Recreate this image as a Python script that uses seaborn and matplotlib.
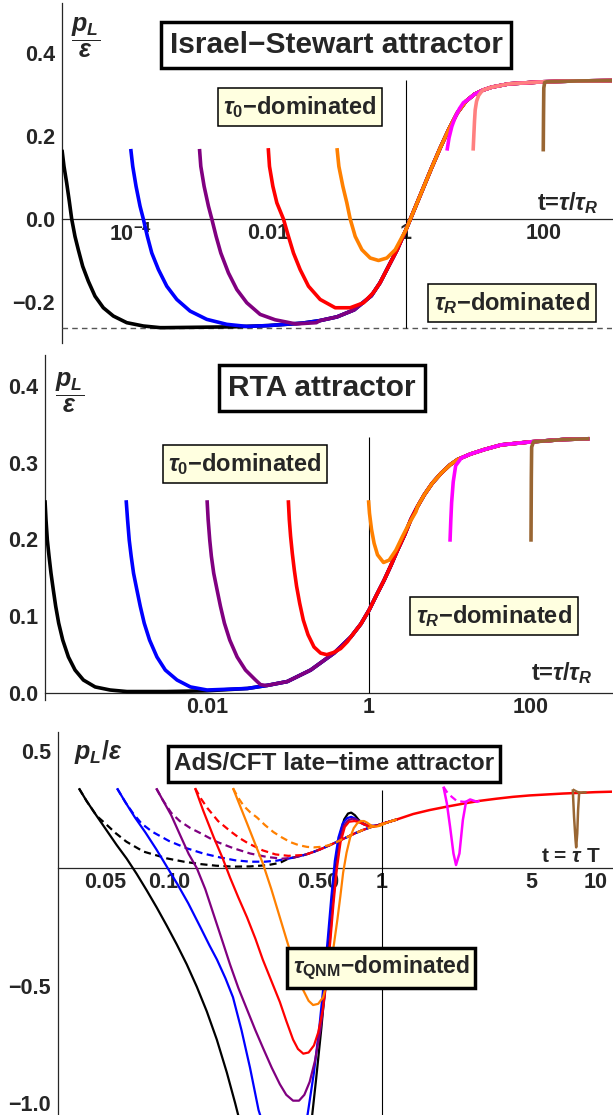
import numpy as np
import matplotlib
matplotlib.use("Agg")
import matplotlib.pyplot as plt
import seaborn as sns
from matplotlib.ticker import FixedLocator, FixedFormatter, NullFormatter

# ---- data: log10(t) and p_L/epsilon ----

# Israel-Stewart panel
is_att_lt = [-5.0, -3.5, -2.5, -2.0, -1.5, -1.25, -1.0, -0.75, -0.5, -0.375, -0.25, -0.125, 0.0,
             0.125, 0.25, 0.375, 0.5, 0.625, 0.75, 0.875, 1.0, 1.125, 1.25, 1.5, 2.0, 2.5, 3.0]
is_att_v = [-0.263, -0.263, -0.261, -0.258, -0.252, -0.246, -0.237, -0.220, -0.186, -0.155,
            -0.115, -0.075, -0.028, 0.022, 0.072, 0.122, 0.170, 0.215, 0.255, 0.283, 0.300,
            0.310, 0.317, 0.325, 0.330, 0.332, 0.333]
is_black_lt = [-5.0, -4.971, -4.932, -4.894, -4.859, -4.811, -4.763, -4.699, -4.617, -4.52,
               -4.399, -4.253, -4.058, -3.817, -3.574]
is_black_v = [0.166, 0.126, 0.086, 0.042, -0.001, -0.043, -0.075, -0.115, -0.151, -0.187,
              -0.215, -0.235, -0.251, -0.259, -0.263]
is_blue_lt = [-4.0, -3.971, -3.923, -3.865, -3.817, -3.758, -3.694, -3.597, -3.476, -3.33,
              -3.137, -2.894, -2.603, -2.312]
is_blue_v = [0.168, 0.126, 0.078, 0.030, -0.001, -0.043, -0.083, -0.123, -0.163, -0.195,
             -0.223, -0.243, -0.255, -0.260]
is_purple_lt = [-3.0, -2.981, -2.933, -2.870, -2.821, -2.758, -2.69, -2.579, -2.457, -2.312,
                -2.118, -1.9, -1.6, -1.3]
is_purple_v = [0.168, 0.126, 0.078, 0.030, -0.001, -0.043, -0.083, -0.131, -0.171, -0.203,
               -0.231, -0.244, -0.254, -0.251]
is_red_lt = [-2.0, -1.982, -1.933, -1.875, -1.779, -1.706, -1.633, -1.536, -1.415, -1.245,
             -1.026, -0.808, -0.614, -0.469]
is_red_v = [0.170, 0.126, 0.078, 0.038, -0.001, -0.043, -0.083, -0.123, -0.163, -0.195,
            -0.215, -0.215, -0.203, -0.178]
is_orange_lt = [-1.0, -0.973, -0.915, -0.857, -0.808, -0.735, -0.638, -0.517, -0.396, -0.275,
                -0.153, -0.056]
is_orange_v = [0.170, 0.126, 0.078, 0.038, -0.001, -0.043, -0.075, -0.095, -0.101, -0.095,
               -0.075, -0.045]
is_magenta_lt = [0.60, 0.63, 0.67, 0.72, 0.78, 0.84]
is_magenta_v = [0.164, 0.195, 0.222, 0.245, 0.265, 0.28]
is_pink_lt = [0.98, 0.99, 1.0, 1.01, 1.03, 1.06, 1.1]
is_pink_v = [0.164, 0.20, 0.235, 0.262, 0.283, 0.297, 0.306]
is_brown_lt = [2.0, 2.004, 2.008, 2.02, 2.05]
is_brown_v = [0.162, 0.25, 0.315, 0.328, 0.330]
is_floor = -0.263

# RTA panel
rta_att_lt = [-4.0, -3.5, -3.0, -2.5, -2.0, -1.5, -1.256, -1.009, -0.72, -0.432, -0.225, -0.1,
              0.001, 0.09, 0.187, 0.27, 0.352, 0.44, 0.517, 0.6, 0.682, 0.78, 0.889, 1.0,
              1.095, 1.25, 1.425, 1.631, 2.0, 2.4, 2.72]
rta_att_v = [0.0, 0.001, 0.001, 0.002, 0.003, 0.006, 0.010, 0.015, 0.030, 0.052, 0.073, 0.090,
             0.108, 0.127, 0.147, 0.166, 0.186, 0.206, 0.226, 0.243, 0.258, 0.273, 0.286,
             0.297, 0.304, 0.311, 0.317, 0.323, 0.327, 0.330, 0.331]
rta_black_lt = [-4.0, -3.988, -3.971, -3.95, -3.926, -3.897, -3.868, -3.831, -3.781, -3.711,
                -3.629, -3.526, -3.381, -3.196, -2.989]
rta_black_v = [0.251, 0.226, 0.199, 0.178, 0.156, 0.134, 0.113, 0.091, 0.069, 0.047, 0.030,
               0.017, 0.008, 0.004, 0.002]
rta_blue_lt = [-2.998, -2.981, -2.96, -2.936, -2.907, -2.865, -2.824, -2.775, -2.709, -2.618,
               -2.515, -2.37, -2.205, -1.999]
rta_blue_v = [0.251, 0.226, 0.199, 0.178, 0.156, 0.134, 0.113, 0.091, 0.069, 0.047, 0.030,
              0.017, 0.008, 0.004]
rta_purple_lt = [-1.999, -1.986, -1.966, -1.946, -1.917, -1.875, -1.834, -1.785, -1.719, -1.628,
                 -1.525, -1.401, -1.339, -1.28]
rta_purple_v = [0.251, 0.226, 0.199, 0.178, 0.156, 0.134, 0.113, 0.091, 0.069, 0.047, 0.030,
                0.017, 0.011, 0.010]
rta_red_lt = [-0.996, -0.984, -0.968, -0.947, -0.922, -0.894, -0.856, -0.811, -0.753, -0.679,
              -0.597, -0.522, -0.432, -0.349, -0.266]
rta_red_v = [0.251, 0.226, 0.204, 0.182, 0.160, 0.139, 0.117, 0.095, 0.076, 0.060, 0.052,
             0.050, 0.053, 0.058, 0.067]
rta_orange_lt = [-0.006, 0.006, 0.031, 0.063, 0.105, 0.179, 0.249, 0.332, 0.414, 0.497, 0.579]
rta_orange_v = [0.251, 0.234, 0.213, 0.195, 0.180, 0.170, 0.173, 0.186, 0.204, 0.221, 0.236]
rta_magenta_lt = [1.0, 1.01, 1.02, 1.04, 1.07, 1.14]
rta_magenta_v = [0.197, 0.225, 0.248, 0.275, 0.296, 0.306]
rta_brown_lt = [2.0, 2.004, 2.008, 2.03]
rta_brown_v = [0.197, 0.28, 0.32, 0.327]

# AdS/CFT panel
ads_hyd_lt = [-0.48, -0.44, -0.40, -0.36, -0.324, -0.284, -0.244, -0.204, -0.164, -0.127, -0.09,
              -0.05, -0.01, 0.03, 0.07]
ads_hyd_v = [0.034, 0.040, 0.048, 0.057, 0.068, 0.082, 0.098, 0.115, 0.132, 0.148, 0.162, 0.175,
             0.185, 0.196, 0.207]
ads_late_lt = [-0.01, 0.07, 0.146, 0.224, 0.302, 0.38, 0.458, 0.536, 0.614, 0.692, 0.77, 0.848,
               0.926, 1.0, 1.08]
ads_late_v = [0.185, 0.207, 0.230, 0.247, 0.261, 0.274, 0.286, 0.295, 0.303, 0.309, 0.313, 0.317,
              0.320, 0.323, 0.325]
ads_black_lt = [-1.423, -1.387, -1.34, -1.293, -1.246, -1.199, -1.152, -1.105, -1.058, -1.011,
                -0.964, -0.917, -0.87, -0.823, -0.776, -0.729, -0.69, -0.62, -0.5, -0.4, -0.34,
                -0.31, -0.285, -0.265, -0.245, -0.228, -0.212, -0.195, -0.178, -0.16, -0.145,
                -0.128, -0.11, -0.09, -0.07, -0.045, -0.02]
ads_black_v = [0.339, 0.285, 0.222, 0.160, 0.098, 0.040, -0.025, -0.095, -0.168, -0.245, -0.325,
               -0.410, -0.505, -0.61, -0.73, -0.87, -1.0, -1.25, -1.5, -1.4, -1.15, -0.90, -0.68,
               -0.48, -0.28, -0.10, 0.05, 0.15, 0.207, 0.232, 0.236, 0.225, 0.205, 0.19, 0.181,
               0.178, 0.181]
ads_blue_lt = [-1.244, -1.205, -1.16, -1.11, -1.06, -1.01, -0.96, -0.91, -0.854, -0.81, -0.775,
               -0.735, -0.70, -0.66, -0.62, -0.58, -0.52, -0.45, -0.39, -0.35, -0.32, -0.295,
               -0.275, -0.255, -0.238, -0.222, -0.205, -0.185, -0.165, -0.145, -0.125, -0.105,
               -0.085, -0.06, -0.03]
ads_blue_v = [0.339, 0.28, 0.215, 0.15, 0.08, 0.005, -0.07, -0.15, -0.25, -0.33, -0.39, -0.47,
              -0.55, -0.69, -0.85, -1.03, -1.2, -1.28, -1.2, -1.05, -0.87, -0.68, -0.50, -0.30,
              -0.12, 0.03, 0.13, 0.19, 0.212, 0.218, 0.21, 0.195, 0.185, 0.179, 0.18]
ads_purple_lt = [-1.06, -1.03, -0.99, -0.948, -0.908, -0.87, -0.83, -0.79, -0.75, -0.714,
                 -0.675, -0.635, -0.595, -0.557, -0.518, -0.48, -0.45, -0.418, -0.39, -0.365,
                 -0.34, -0.315, -0.29, -0.27, -0.25, -0.232, -0.215, -0.198, -0.18, -0.16, -0.14,
                 -0.12, -0.1, -0.08, -0.05, -0.02]
ads_purple_v = [0.339, 0.29, 0.225, 0.14, 0.06, 0.0, -0.09, -0.2, -0.31, -0.41, -0.51, -0.60,
                -0.69, -0.77, -0.85, -0.92, -0.965, -0.99, -0.99, -0.965, -0.91, -0.82, -0.69,
                -0.55, -0.36, -0.16, 0.0, 0.12, 0.18, 0.203, 0.21, 0.206, 0.195, 0.186, 0.18, 0.18]
ads_red_lt = [-0.878, -0.84, -0.79, -0.75, -0.714, -0.675, -0.634, -0.595, -0.56, -0.52, -0.48,
              -0.45, -0.418, -0.395, -0.37, -0.345, -0.32, -0.30, -0.28, -0.26, -0.243, -0.228,
              -0.212, -0.195, -0.175, -0.155, -0.13, -0.11, -0.09, -0.07, -0.04, -0.02]
ads_red_v = [0.34, 0.245, 0.13, 0.045, -0.04, -0.125, -0.21, -0.30, -0.39, -0.48, -0.57, -0.65,
             -0.73, -0.77, -0.79, -0.785, -0.755, -0.70, -0.61, -0.47, -0.31, -0.15, 0.0, 0.11,
             0.175, 0.197, 0.2, 0.196, 0.188, 0.18, 0.177, 0.18]
ads_orange_lt = [-0.70, -0.667, -0.634, -0.597, -0.56, -0.52, -0.48, -0.45, -0.42, -0.395,
                 -0.37, -0.345, -0.324, -0.30, -0.277, -0.26, -0.244, -0.227, -0.21, -0.196,
                 -0.183, -0.167, -0.15, -0.133, -0.117, -0.1, -0.085, -0.07, -0.05, -0.03, -0.01]
ads_orange_v = [0.34, 0.265, 0.19, 0.105, 0.02, -0.09, -0.21, -0.30, -0.39, -0.46, -0.52, -0.565,
                -0.583, -0.578, -0.55, -0.49, -0.42, -0.33, -0.22, -0.12, -0.02, 0.065, 0.13,
                0.17, 0.19, 0.2, 0.2, 0.193, 0.18, 0.176, 0.18]
ads_black_d_lt = [-1.423, -1.387, -1.34, -1.30, -1.25, -1.2, -1.12, -1.01, -0.93, -0.854, -0.78,
                  -0.70, -0.62, -0.54, -0.48]
ads_black_d_v = [0.339, 0.285, 0.222, 0.19, 0.148, 0.112, 0.07, 0.041, 0.027, 0.017, 0.01,
                 0.006, 0.007, 0.012, 0.022]
ads_blue_d_lt = [-1.244, -1.205, -1.17, -1.13, -1.08, -1.0, -0.92, -0.84, -0.76, -0.69, -0.62,
                 -0.55, -0.49]
ads_blue_d_v = [0.339, 0.28, 0.234, 0.19, 0.155, 0.115, 0.085, 0.062, 0.045, 0.033, 0.027,
                0.027, 0.032]
ads_purple_d_lt = [-1.06, -1.03, -0.99, -0.95, -0.9, -0.854, -0.78, -0.70, -0.62, -0.54, -0.47,
                   -0.42]
ads_purple_d_v = [0.339, 0.29, 0.235, 0.2, 0.17, 0.149, 0.113, 0.085, 0.062, 0.047, 0.04, 0.043]
ads_red_d_lt = [-0.878, -0.85, -0.82, -0.77, -0.71, -0.67, -0.63, -0.56, -0.5, -0.44, -0.38]
ads_red_d_v = [0.34, 0.295, 0.255, 0.2, 0.155, 0.128, 0.106, 0.075, 0.058, 0.052, 0.055]
ads_orange_d_lt = [-0.70, -0.676, -0.65, -0.62, -0.587, -0.55, -0.51, -0.47, -0.43, -0.39,
                   -0.352, -0.32, -0.29, -0.26, -0.23]
ads_orange_d_v = [0.34, 0.30, 0.265, 0.238, 0.215, 0.183, 0.153, 0.13, 0.11, 0.097, 0.09, 0.088,
                  0.09, 0.095, 0.103]
ads_magenta_lt = [0.288, 0.304, 0.319, 0.335, 0.347, 0.363, 0.379, 0.394, 0.413, 0.445]
ads_magenta_v = [0.346, 0.275, 0.176, 0.062, 0.013, 0.062, 0.204, 0.282, 0.292, 0.282]
ads_magenta_d_lt = [0.288, 0.304, 0.327, 0.35, 0.382, 0.42]
ads_magenta_d_v = [0.346, 0.324, 0.303, 0.286, 0.282, 0.283]
ads_brown_lt = [0.895, 0.901, 0.908, 0.911, 0.916, 0.92, 0.925, 0.945, 0.96]
ads_brown_v = [0.335, 0.218, 0.119, 0.088, 0.147, 0.247, 0.32, 0.322, 0.322]
ads_brown_d_lt = [0.895, 0.905, 0.915, 0.93]
ads_brown_d_v = [0.335, 0.33, 0.325, 0.321]

ref_t = 1.0
ref_top = 1 / 3

C = {"black": "black", "blue": "#0000FF", "purple": "#800080", "red": "#FF0000",
     "orange": "#FF8000", "magenta": "#FF00FF", "pink": "#FF8080", "brown": "#996633"}

sns.set_style("white")
plt.rcParams["font.family"] = ["Liberation Sans", "DejaVu Sans"]
plt.rcParams["font.weight"] = "bold"
plt.rcParams["mathtext.fontset"] = "custom"
plt.rcParams["mathtext.rm"] = "Liberation Sans:bold"
plt.rcParams["mathtext.it"] = "Liberation Sans:italic:bold"
plt.rcParams["mathtext.bf"] = "Liberation Sans:bold"
plt.rcParams["mathtext.fallback"] = "stixsans"
plt.rcParams["axes.unicode_minus"] = True

W, H = 613, 1115
fig = plt.figure(figsize=(W / 100, H / 100), dpi=100)


def px_axes(x0, y0, x1, y1):
    return fig.add_axes([x0 / W, 1 - y1 / H, (x1 - x0) / W, (y1 - y0) / H])


def join(lt, v, tail_lt, tail_v, stop=None):
    # transient followed by the attractor points that come after it
    xs, ys = list(lt), list(v)
    for a, b in zip(tail_lt, tail_v):
        if a > lt[-1] and (stop is None or a <= stop):
            xs.append(a)
            ys.append(b)
    return np.power(10.0, xs), np.array(ys)


def draw(ax, t, v, color, lw, dashed=False):
    sns.lineplot(x=t, y=v, color=color, lw=lw, ax=ax, sort=False, estimator=None, legend=False)
    ln = ax.lines[-1]
    ln.set_solid_capstyle("butt")
    ln.set_solid_joinstyle("round")
    if dashed:
        ln.set_dashes((3.2, 2.0))


def style_axes(ax, xlim, ylim, xmaj, xlab, xmin, ymaj, ylab, ymin):
    ax.set_xscale("log")
    ax.set_xlim(xlim)
    ax.set_ylim(ylim)
    ax.patch.set_visible(False)
    for s in ["top", "right"]:
        ax.spines[s].set_visible(False)
    ax.spines["bottom"].set_position(("data", 0))
    for s in ["bottom", "left"]:
        ax.spines[s].set_linewidth(0.9)
        ax.spines[s].set_zorder(0.5)
    ax.set_axisbelow(True)
    ax.xaxis.set_major_locator(FixedLocator(xmaj))
    ax.xaxis.set_major_formatter(FixedFormatter(xlab))
    ax.xaxis.set_minor_locator(FixedLocator(xmin))
    ax.xaxis.set_minor_formatter(NullFormatter())
    ax.yaxis.set_major_locator(FixedLocator(ymaj))
    ax.yaxis.set_major_formatter(FixedFormatter(ylab))
    ax.yaxis.set_minor_locator(FixedLocator(ymin))
    ax.tick_params(which="both", direction="in", width=0.8, labelsize=15.5, pad=3)
    ax.tick_params(which="major", length=5)
    ax.tick_params(which="minor", length=3)
    ax.tick_params(axis="y", pad=5)


def label(x, y, s, size, fc="white", lw=2.5, pad=0.3):
    fig.text(x / W, 1 - y / H, s, fontsize=size, ha="center", va="center",
             bbox=dict(boxstyle=f"square,pad={pad}", fc=fc, ec="black", lw=lw))


# ---------------- panel 1: Israel-Stewart ----------------
ax1 = px_axes(62, 3, 612, 343)
style_axes(ax1, (1e-5, 1e3), (-0.3, 0.52),
           [1e-4, 1e-2, 1, 100], ["$10^{-4}$", "0.01", "1", "100"], [1e-5, 1e-3, 0.1, 10, 1000],
           [-0.2, 0.0, 0.2, 0.4], ["\u22120.2", "0.0", "0.2", "0.4"],
           np.round(np.arange(-0.3, 0.51, 0.05), 3))
ax1.axhline(is_floor, color="#555555", lw=1.0, ls=(0, (4, 3)), zorder=1)
ax1.vlines(ref_t, is_floor, ref_top, color="black", lw=0.8, zorder=1)
for lt, v, c in [(is_black_lt, is_black_v, "black"), (is_blue_lt, is_blue_v, "blue"),
                 (is_purple_lt, is_purple_v, "purple"), (is_red_lt, is_red_v, "red"),
                 (is_orange_lt, is_orange_v, "orange"), (is_magenta_lt, is_magenta_v, "magenta"),
                 (is_pink_lt, is_pink_v, "pink"), (is_brown_lt, is_brown_v, "brown")]:
    t, y = join(lt, v, is_att_lt, is_att_v)
    draw(ax1, t, y, C[c], 2.6)

label(336, 45, "Israel\u2212Stewart attractor", 21.5)
label(300, 107, "$\\tau_0$\u2212dominated", 17, fc="#FFFFE0", lw=1.1, pad=0.25)
label(512, 303, "$\\tau_R$\u2212dominated", 17, fc="#FFFFE0", lw=1.1, pad=0.25)
fig.text(568 / W, 1 - 203 / H, "t=$\\tau/\\tau_R$", fontsize=17, ha="center", va="center")
fig.text(86 / W, 1 - 38 / H, r"$\dfrac{p_L}{\epsilon}$", fontsize=18, ha="center", va="center")

# ---------------- panel 2: RTA ----------------
ax2 = px_axes(45, 355, 612, 700)
style_axes(ax2, (1e-4, 1e3), (-0.009, 0.44),
           [1e-2, 1, 100], ["0.01", "1", "100"], [1e-4, 1e-3, 0.1, 10, 1000],
           [0.0, 0.1, 0.2, 0.3, 0.4], ["0.0", "0.1", "0.2", "0.3", "0.4"],
           np.round(np.arange(0.0, 0.441, 0.02), 3))
ax2.vlines(ref_t, 0, ref_top, color="black", lw=0.8, zorder=1)
for lt, v, c in [(rta_black_lt, rta_black_v, "black"), (rta_blue_lt, rta_blue_v, "blue"),
                 (rta_purple_lt, rta_purple_v, "purple"), (rta_red_lt, rta_red_v, "red"),
                 (rta_orange_lt, rta_orange_v, "orange"), (rta_magenta_lt, rta_magenta_v, "magenta"),
                 (rta_brown_lt, rta_brown_v, "brown")]:
    t, y = join(lt, v, rta_att_lt, rta_att_v)
    draw(ax2, t, y, C[c], 2.6)

label(322, 388, "RTA attractor", 21.5)
label(245, 464, "$\\tau_0$\u2212dominated", 17, fc="#FFFFE0", lw=1.1, pad=0.25)
label(494, 616, "$\\tau_R$\u2212dominated", 17, fc="#FFFFE0", lw=1.1, pad=0.25)
fig.text(562 / W, 1 - 673 / H, "t=$\\tau/\\tau_R$", fontsize=17, ha="center", va="center")
fig.text(70 / W, 1 - 393 / H, r"$\dfrac{p_L}{\epsilon}$", fontsize=18, ha="center", va="center")

# ---------------- panel 3: AdS/CFT ----------------
ax3 = px_axes(58, 732, 612, 1115)
style_axes(ax3, (0.0301, 12.0), (-1.051, 0.579),
           [0.05, 0.1, 0.5, 1, 5, 10], ["0.05", "0.10", "0.50", "1", "5", "10"],
           [0.04, 0.06, 0.07, 0.08, 0.09, 0.2, 0.3, 0.4, 0.6, 0.7, 0.8, 0.9, 2, 3, 4, 6, 7, 8, 9],
           [-1.0, -0.5, 0.0, 0.5], ["\u22121.0", "\u22120.5", "", "0.5"],
           np.round(np.arange(-1.0, 0.51, 0.1), 3))
ax3.vlines(ref_t, -1.06, ref_top, color="black", lw=0.8, zorder=1)
t, y = join(ads_late_lt, ads_late_v, [], [])
draw(ax3, t, y, C["red"], 1.8)
for lt, v, ltd, vd, c in [
        (ads_black_lt, ads_black_v, ads_black_d_lt, ads_black_d_v, "black"),
        (ads_blue_lt, ads_blue_v, ads_blue_d_lt, ads_blue_d_v, "blue"),
        (ads_purple_lt, ads_purple_v, ads_purple_d_lt, ads_purple_d_v, "purple"),
        (ads_red_lt, ads_red_v, ads_red_d_lt, ads_red_d_v, "red"),
        (ads_orange_lt, ads_orange_v, ads_orange_d_lt, ads_orange_d_v, "orange")]:
    t, y = join(lt, v, ads_hyd_lt, ads_hyd_v)
    draw(ax3, t, y, C[c], 1.6)
    t, y = join(ltd, vd, ads_hyd_lt, ads_hyd_v)
    draw(ax3, t, y, C[c], 1.6, dashed=True)
t, y = join(ads_magenta_lt, ads_magenta_v, ads_late_lt, ads_late_v, stop=0.47)
draw(ax3, t, y, C["magenta"], 1.8)
t, y = join(ads_magenta_d_lt, ads_magenta_d_v, [], [])
draw(ax3, t, y, C["magenta"], 1.6, dashed=True)
t, y = join(ads_brown_lt, ads_brown_v, [], [])
draw(ax3, t, y, C["brown"], 1.8)
t, y = join(ads_brown_d_lt, ads_brown_d_v, [], [])
draw(ax3, t, y, C["brown"], 1.6)

label(334, 764, "AdS/CFT late\u2212time attractor", 17.5, lw=2.5, pad=0.25)
label(381, 968, "$\\tau_\\mathrm{QNM}$\u2212dominated", 16.5, fc="#FFFFE0", lw=2.5, pad=0.25)
fig.text(571 / W, 1 - 857 / H, "t = $\\tau$ T", fontsize=15, ha="center", va="center")
fig.text(98 / W, 1 - 752 / H, r"$p_L/\epsilon$", fontsize=18, ha="center", va="center")

fig.savefig("out.png", dpi=100)
